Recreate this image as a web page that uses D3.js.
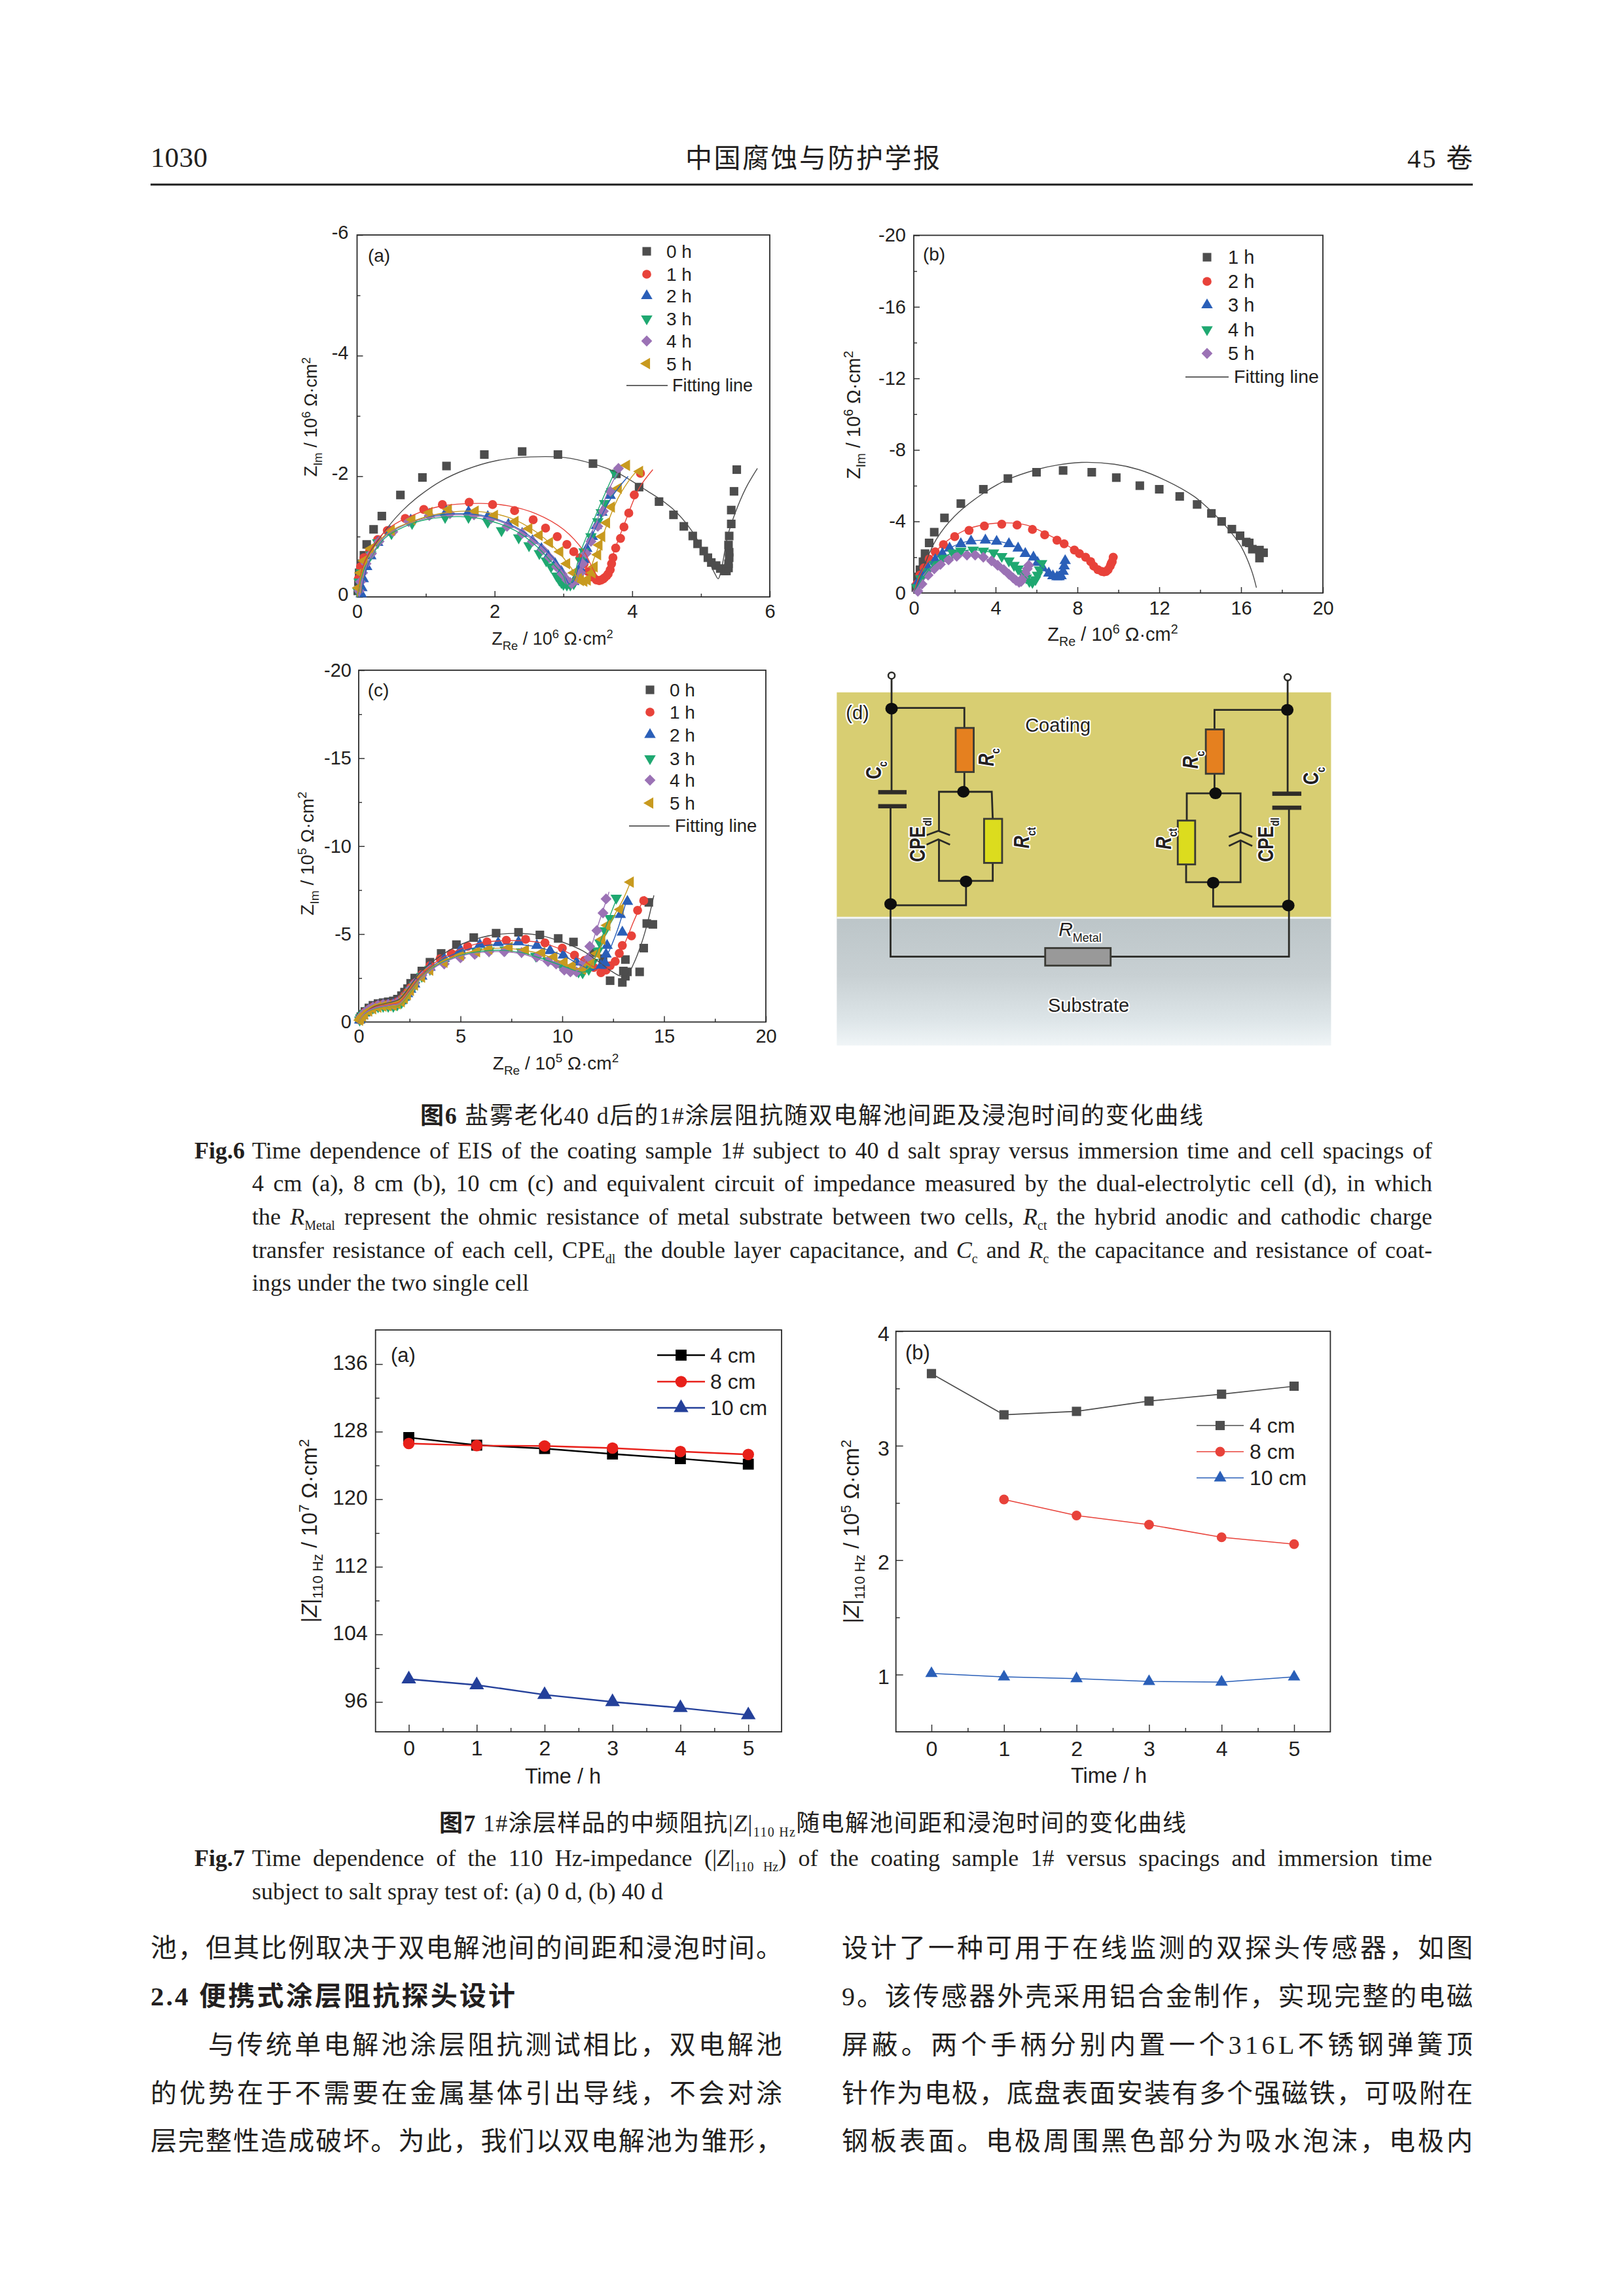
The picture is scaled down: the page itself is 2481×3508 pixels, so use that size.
<!DOCTYPE html>
<html><head><meta charset="utf-8">
<script src="https://cdn.jsdelivr.net/npm/d3@7"></script>
<style>html,body{margin:0;background:#fff}svg{display:block}</style></head>
<body><svg id="page" width="2481" height="3508" xmlns="http://www.w3.org/2000/svg"></svg>
<script>
// ---------- Fig 6(a) data, [ZRe, -ZIm] in 10^6 ohm cm2 ----------
const a0h=[[0.01,0.1],[0.02,0.25],[0.03,0.4],[0.06,0.55],[0.10,0.69],[0.14,0.87],[0.24,1.12],[0.36,1.34],[0.63,1.69],[0.95,1.98],[1.30,2.17],[1.85,2.36],[2.40,2.41],[2.92,2.36],[3.43,2.21],[3.77,2.04],[4.10,1.82],[4.39,1.58],[4.60,1.36],[4.75,1.17],[4.88,1.01],[4.95,0.88],[5.04,0.76],[5.10,0.65],[5.15,0.57],[5.22,0.52],[5.28,0.47],[5.34,0.43],[5.37,0.43],[5.40,0.48],[5.40,0.55],[5.41,0.65],[5.41,0.74],[5.40,0.86],[5.41,1.01],[5.44,1.21],[5.44,1.44],[5.48,1.75],[5.52,2.11]];
const a0hFit=[[0,0],[0.02,0.1],[0.1,0.55],[0.37,1.04],[0.65,1.42],[0.91,1.68],[1.22,1.92],[1.58,2.11],[2.03,2.26],[2.52,2.32],[3.02,2.31],[3.42,2.21],[3.78,2.06],[4.20,1.77],[4.58,1.47],[4.87,1.09],[5.10,0.62],[5.20,0.39],[5.25,0.30],[5.30,0.48],[5.39,1.02],[5.50,1.40],[5.65,1.80],[5.82,2.13]];
const a1h=[[0.02,0.3],[0.05,0.5],[0.1,0.65],[0.18,0.75],[0.3,0.95],[0.44,1.1],[0.70,1.30],[0.97,1.45],[1.24,1.53],[1.63,1.57],[1.97,1.53],[2.29,1.43],[2.56,1.28],[2.74,1.14],[2.91,1.00],[3.05,0.87],[3.15,0.75],[3.24,0.65],[3.30,0.55],[3.36,0.42],[3.42,0.33],[3.48,0.28],[3.52,0.27],[3.55,0.28],[3.58,0.3],[3.60,0.32],[3.63,0.35],[3.65,0.38],[3.68,0.45],[3.70,0.55],[3.72,0.65],[3.76,0.81],[3.83,0.97],[3.88,1.16],[3.95,1.39],[4.03,1.69],[4.12,2.05]];
const a1hFit=[[0,0],[0.1,0.55],[0.3,0.95],[0.5,1.17],[0.8,1.35],[1.2,1.5],[1.8,1.55],[2.2,1.51],[2.6,1.38],[3.0,1.12],[3.3,0.75],[3.45,0.42],[3.55,0.28],[3.62,0.35],[3.72,0.7],[3.9,1.25],[4.1,1.8],[4.3,2.11]];
const a2h=[[0.06,0.05],[0.07,0.15],[0.09,0.3],[0.14,0.5],[0.2,0.68],[0.3,0.9],[0.48,1.08],[0.78,1.27],[1.05,1.37],[1.3,1.42],[1.62,1.41],[1.9,1.33],[2.2,1.2],[2.4,1.05],[2.55,0.93],[2.68,0.8],[2.78,0.68],[2.88,0.55],[2.97,0.42],[3.03,0.3],[3.1,0.22],[3.15,0.25],[3.2,0.35],[3.24,0.48],[3.3,0.62],[3.34,0.8],[3.42,1.0],[3.48,1.18],[3.56,1.4],[3.68,1.68]];
const a2hFit=[[0.06,0],[0.1,0.3],[0.2,0.65],[0.4,1.0],[0.7,1.2],[1.0,1.32],[1.5,1.38],[1.9,1.33],[2.3,1.16],[2.6,0.93],[2.85,0.65],[3.0,0.42],[3.08,0.22],[3.14,0.25],[3.25,0.6],[3.45,1.1],[3.7,1.65],[3.94,2.0]];
const a3h=[[0.01,0.1],[0.03,0.25],[0.06,0.4],[0.12,0.55],[0.2,0.7],[0.3,0.9],[0.5,1.05],[0.8,1.22],[1.28,1.32],[1.62,1.32],[1.9,1.24],[2.1,1.1],[2.35,0.98],[2.5,0.85],[2.65,0.72],[2.75,0.6],[2.82,0.5],[2.9,0.35],[2.94,0.28],[2.97,0.24],[3.0,0.21],[3.05,0.2],[3.1,0.2],[3.15,0.22],[3.2,0.4],[3.25,0.6],[3.3,0.75],[3.4,1.0],[3.5,1.25],[3.55,1.4],[3.6,1.55],[3.7,1.75],[3.75,2.05]];
const a3hFit=[[0,0],[0.1,0.45],[0.2,0.65],[0.4,0.97],[0.7,1.17],[1.0,1.28],[1.5,1.33],[1.9,1.27],[2.3,1.1],[2.6,0.85],[2.85,0.55],[3.0,0.35],[3.05,0.2],[3.12,0.25],[3.25,0.75],[3.45,1.3],[3.6,1.7],[3.75,2.08]];
const a4h=[[0.03,0.1],[0.05,0.25],[0.08,0.4],[0.13,0.55],[0.21,0.72],[0.32,0.92],[0.52,1.08],[0.75,1.25],[1.05,1.35],[1.35,1.38],[1.7,1.36],[1.95,1.3],[2.18,1.17],[2.4,1.05],[2.55,0.92],[2.7,0.78],[2.8,0.65],[2.9,0.5],[2.98,0.38],[3.05,0.28],[3.12,0.22],[3.2,0.28],[3.25,0.4],[3.28,0.55],[3.33,0.72],[3.4,0.92],[3.5,1.17],[3.58,1.42],[3.68,1.75],[3.8,2.13]];
const a4hFit=[[0.03,0],[0.1,0.4],[0.2,0.66],[0.4,1.0],[0.7,1.2],[1.0,1.3],[1.5,1.36],[1.9,1.31],[2.3,1.14],[2.6,0.9],[2.85,0.62],[3.0,0.4],[3.12,0.22],[3.18,0.25],[3.3,0.75],[3.5,1.3],[3.65,1.75],[3.82,2.13]];
const a5h=[[0.02,0.15],[0.05,0.4],[0.1,0.6],[0.2,0.8],[0.5,1.1],[0.8,1.28],[1.05,1.4],[1.33,1.45],[1.72,1.42],[2.0,1.35],[2.3,1.25],[2.5,1.13],[2.65,1.02],[2.8,0.9],[2.95,0.75],[3.05,0.55],[3.15,0.4],[3.22,0.3],[3.25,0.27],[3.3,0.26],[3.35,0.28],[3.42,0.4],[3.45,0.5],[3.5,0.7],[3.52,0.86],[3.56,1.0],[3.63,1.23],[3.7,1.49],[3.8,1.8],[3.92,2.18],[4.11,2.08]];
const a5hFit=[[0,0],[0.1,0.5],[0.3,0.9],[0.5,1.1],[0.8,1.25],[1.2,1.38],[1.7,1.42],[2.2,1.32],[2.6,1.08],[2.9,0.78],[3.1,0.5],[3.25,0.27],[3.33,0.3],[3.45,0.65],[3.6,1.1],[3.8,1.65],[4.0,2.0],[4.08,2.1]];
// ---------- Fig 6(b) data ----------
const b1h=[[0.1,0.3],[0.2,0.9],[0.3,1.3],[0.45,1.75],[0.55,2.2],[0.75,2.8],[1.0,3.4],[1.5,4.2],[2.3,5.0],[3.4,5.8],[4.6,6.4],[6.0,6.75],[7.3,6.85],[8.7,6.75],[9.9,6.45],[11.05,6.0],[12.0,5.8],[13.0,5.4],[13.85,4.95],[14.55,4.45],[15.05,4.0],[15.55,3.57],[15.95,3.2],[16.25,2.85],[16.4,2.8],[16.55,2.45],[16.9,2.4],[17.1,2.25],[16.9,1.95]];
const b1hFit=[[0,0],[0.5,1.5],[1.1,3.0],[2.0,4.3],[3.3,5.5],[4.5,6.3],[6,6.9],[7,7.15],[8.2,7.3],[9.8,7.2],[11,6.9],[12.3,6.3],[13.7,5.4],[14.7,4.4],[15.5,3.4],[16.0,2.6],[16.5,1.3],[16.75,0.3]];
const b2h=[[0.15,0.5],[0.3,1.0],[0.5,1.4],[0.75,1.9],[1.05,2.3],[1.45,2.7],[2.0,3.15],[2.7,3.5],[3.45,3.75],[4.3,3.85],[5.05,3.8],[5.8,3.55],[6.4,3.25],[7.0,2.95],[7.35,2.75],[7.85,2.4],[8.1,2.2],[8.4,2.0],[8.65,1.75],[8.8,1.5],[9.0,1.3],[9.2,1.2],[9.3,1.18],[9.4,1.2],[9.5,1.3],[9.6,1.5],[9.65,1.65],[9.7,1.75],[9.75,2.0]];
const b2hFit=[[0,0],[0.3,1.0],[0.75,1.85],[1.45,2.75],[2.0,3.2],[2.7,3.6],[3.6,3.85],[4.5,3.92],[5.5,3.8],[6.4,3.35],[7.3,2.8],[8.1,2.2],[8.7,1.6],[9.2,1.2],[9.5,1.3],[9.7,1.75],[9.95,2.05]];
const b3h=[[0.2,0.6],[0.4,1.0],[0.7,1.4],[1.05,1.85],[1.4,2.2],[1.75,2.5],[2.3,2.75],[2.8,2.9],[3.5,2.95],[4.05,2.88],[4.65,2.75],[5.1,2.5],[5.45,2.2],[5.85,2.0],[6.05,1.7],[6.3,1.4],[6.6,1.1],[6.8,0.95],[7.0,0.9],[7.1,0.9],[7.2,0.95],[7.3,1.2],[7.35,1.5],[7.4,1.8]];
const b3hFit=[[0,0],[0.5,1.15],[1.0,1.85],[1.75,2.5],[2.5,2.85],[3.5,2.95],[4.5,2.8],[5.3,2.4],[6.0,1.75],[6.5,1.15],[6.9,0.9],[7.2,0.95],[7.35,1.4],[7.5,1.75]];
const b4h=[[0.15,0.3],[0.35,0.8],[0.65,1.2],[1.0,1.6],[1.4,1.95],[1.9,2.25],[2.3,2.35],[2.9,2.4],[3.4,2.35],[3.9,2.25],[4.3,2.05],[4.65,1.8],[4.9,1.55],[5.1,1.35],[5.3,1.1],[5.5,0.85],[5.65,0.65],[5.8,0.6],[5.95,0.75],[6.05,1.0],[6.15,1.3],[6.25,1.65]];
const b4hFit=[[0,0],[0.5,0.95],[1.0,1.6],[1.7,2.15],[2.5,2.38],[3.3,2.38],[4.2,2.1],[5.0,1.45],[5.5,0.85],[5.75,0.6],[5.95,0.75],[6.2,1.4],[6.4,1.75]];
const b5h=[[0.2,0.1],[0.4,0.5],[0.7,1.0],[1.0,1.35],[1.3,1.6],[1.7,1.85],[2.1,2.05],[2.6,2.12],[3.0,2.12],[3.4,2.0],[3.8,1.8],[4.1,1.55],[4.4,1.3],[4.65,1.05],[4.85,0.85],[5.0,0.7],[5.15,0.6],[5.25,0.65],[5.35,0.85],[5.45,1.1],[5.55,1.35],[5.62,1.55]];
const b5hFit=[[0,0],[0.5,0.75],[1.0,1.35],[1.7,1.85],[2.5,2.12],[3.2,2.05],[4.0,1.62],[4.6,1.1],[5.05,0.65],[5.2,0.58],[5.4,0.95],[5.65,1.55]];
// ---------- Fig 6(c) data, 10^5 ohm cm2 ----------
const c0h=[[0.05,0.15],[0.1,0.3],[0.2,0.45],[0.3,0.6],[0.5,0.8],[0.7,0.95],[0.95,1.05],[1.2,1.1],[1.45,1.15],[1.7,1.2],[1.9,1.3],[2.1,1.5],[2.25,1.7],[2.4,1.9],[2.55,2.2],[2.75,2.5],[3.1,2.9],[3.5,3.4],[4.05,3.9],[4.8,4.4],[5.65,4.8],[6.75,5.05],[7.85,5.1],[8.9,4.95],[9.8,4.75],[10.55,4.55],[11.55,3.95],[12.0,3.6],[12.35,2.35],[12.95,2.25],[13.1,2.6],[13.0,2.9],[13.2,2.85],[13.1,3.55],[13.8,2.85],[14.0,4.2],[14.15,5.6],[14.45,5.55],[14.25,6.8]];
const c0hFit=[[0,0],[0.3,0.5],[0.8,0.9],[1.5,1.1],[2.0,1.3],[2.5,2.0],[3.0,2.8],[3.6,3.4],[4.2,3.9],[5,4.4],[6,4.8],[7,5.0],[8,5.03],[9,4.9],[10,4.55],[11,4.05],[11.7,3.5],[12.4,2.9],[12.9,2.6],[13.2,2.7],[13.5,3.3],[13.9,4.5],[14.2,5.7],[14.5,7.2]];
const c1h=[[0.05,0.12],[0.1,0.25],[0.2,0.4],[0.3,0.55],[0.5,0.72],[0.7,0.85],[0.95,0.95],[1.2,1.0],[1.45,1.02],[1.7,1.05],[1.9,1.15],[2.1,1.3],[2.25,1.5],[2.4,1.7],[2.55,1.95],[2.75,2.2],[3.1,2.7],[3.5,3.2],[4.0,3.6],[4.55,3.9],[5.35,4.3],[6.3,4.55],[7.25,4.65],[8.2,4.7],[9.15,4.5],[10,4.2],[10.6,3.8],[11.1,3.5],[11.55,3.1],[11.9,2.8],[12.15,2.95],[12.35,3.2],[12.6,3.45],[12.8,3.9],[12.95,4.35],[13.4,4.9],[13.7,6.35],[14,6.9]];
const c1hFit=[[0,0],[0.3,0.5],[0.8,0.85],[1.5,1.0],[2.0,1.15],[2.5,1.85],[3.0,2.6],[3.6,3.25],[4.2,3.7],[5,4.15],[6,4.5],[7,4.62],[8,4.62],[9,4.5],[10,4.1],[11,3.5],[11.7,3.05],[12.1,2.95],[12.5,3.35],[13.0,4.3],[13.5,5.7],[14.05,7.15]];
const c2h=[[0.05,0.1],[0.1,0.2],[0.2,0.35],[0.3,0.5],[0.5,0.68],[0.7,0.8],[0.95,0.9],[1.2,0.95],[1.45,0.97],[1.7,1.0],[1.9,1.08],[2.1,1.2],[2.25,1.4],[2.4,1.6],[2.55,1.85],[2.75,2.15],[3.1,2.6],[3.5,3.1],[4.2,3.6],[5.0,4.1],[5.95,4.4],[6.85,4.5],[7.85,4.55],[8.75,4.35],[9.4,4.05],[10.05,3.8],[10.7,3.4],[11.3,3.1],[11.9,3.2],[12.1,3.35],[12.15,3.85],[12.2,4.35],[12.95,5.1],[12.85,6.1],[13.2,6.85]];
const c2hFit=[[0,0],[0.3,0.45],[0.8,0.8],[1.5,0.95],[2.0,1.05],[2.5,1.75],[3.0,2.5],[3.6,3.15],[4.2,3.6],[5,4.0],[6,4.3],[7,4.42],[8,4.4],[9,4.2],[10,3.8],[10.8,3.3],[11.4,3.0],[11.8,3.1],[12.2,3.8],[12.7,5.2],[13.2,7.1]];
const c3h=[[0.05,0.12],[0.1,0.25],[0.2,0.38],[0.3,0.5],[0.5,0.67],[0.7,0.8],[0.95,0.87],[1.2,0.9],[1.45,0.9],[1.7,0.9],[1.9,0.98],[2.1,1.1],[2.25,1.3],[2.4,1.5],[2.55,1.8],[2.75,2.1],[3.1,2.6],[3.5,3.0],[4.2,3.4],[5.0,3.75],[5.8,4.0],[6.4,4.05],[7.2,4.1],[8.0,4.0],[8.7,3.75],[9.3,3.5],[9.9,3.3],[10.4,3.05],[10.8,2.85],[11.0,2.8],[11.3,3.0],[11.5,3.4],[11.75,4.05],[11.85,4.5],[12.1,5.2],[12.35,5.9],[12.65,7.05]];
const c3hFit=[[0,0],[0.3,0.45],[0.8,0.75],[1.5,0.85],[2.0,0.95],[2.5,1.65],[3.0,2.4],[3.6,3.05],[4.2,3.45],[5,3.8],[6,4.02],[7,4.08],[8,3.95],[9,3.6],[10,3.2],[10.7,2.9],[11.1,2.85],[11.5,3.4],[12.0,5.0],[12.7,7.1]];
const c4h=[[0.05,0.15],[0.1,0.3],[0.2,0.42],[0.3,0.55],[0.5,0.72],[0.7,0.85],[0.95,0.95],[1.2,1.0],[1.45,1.0],[1.7,1.0],[1.9,1.1],[2.1,1.25],[2.25,1.42],[2.4,1.6],[2.55,1.9],[2.75,2.2],[3.1,2.65],[3.5,3.0],[4.2,3.3],[5.0,3.65],[5.7,3.85],[6.4,4.0],[7.15,4.0],[8.0,3.95],[8.75,3.7],[9.3,3.45],[9.7,3.3],[10.1,2.95],[10.4,2.85],[10.7,2.85],[11.0,3.3],[11.3,3.65],[11.35,4.3],[11.7,5.2],[12.0,6.2],[12.15,7.0]];
const c4hFit=[[0,0],[0.3,0.5],[0.8,0.8],[1.5,0.95],[2.0,1.05],[2.5,1.7],[3.0,2.4],[3.6,3.0],[4.2,3.4],[5,3.75],[6,3.95],[7,4.0],[8,3.88],[9,3.5],[9.8,3.1],[10.4,2.85],[10.8,2.95],[11.2,3.6],[11.7,5.3],[12.3,7.4]];
const c5h=[[0.05,0.1],[0.1,0.2],[0.2,0.33],[0.3,0.45],[0.5,0.62],[0.7,0.75],[0.95,0.85],[1.2,0.9],[1.45,0.92],[1.7,0.95],[1.9,1.03],[2.1,1.15],[2.25,1.35],[2.4,1.55],[2.55,1.8],[2.75,2.1],[3.1,2.55],[3.5,2.95],[4.2,3.4],[5.0,3.8],[5.8,4.0],[6.4,4.15],[7.4,4.25],[8.2,4.1],[9.0,3.95],[9.6,3.7],[10.1,3.4],[10.5,3.2],[11.0,3.0],[11.4,3.3],[11.7,3.9],[11.95,4.7],[12.2,5.5],[12.85,6.4],[13.35,7.95]];
const c5hFit=[[0,0],[0.3,0.42],[0.8,0.72],[1.5,0.85],[2.0,0.98],[2.5,1.7],[3.0,2.45],[3.6,3.1],[4.2,3.5],[5,3.85],[6,4.1],[7,4.2],[8,4.1],[9,3.85],[10,3.4],[10.7,3.05],[11.2,3.0],[11.7,3.8],[12.3,5.5],[13.0,7.0],[13.4,8.1]];
// ---------- Fig 7 data ----------
const hours=[0,1,2,3,4,5];
const f7a4cm=[127.3,126.4,126.0,125.35,124.8,124.15];
const f7a8cm=[126.6,126.35,126.3,126.05,125.65,125.3];
const f7a10cm=[98.7,98.0,96.85,96.0,95.3,94.45];
const f7b4cm=[3.63,3.27,3.30,3.39,3.45,3.52];
const f7b8cm=[null,2.53,2.39,2.31,2.20,2.14];
const f7b10cm=[1.01,0.98,0.965,0.94,0.935,0.98];
const legendHoursA=["0 h","1 h","2 h","3 h","4 h","5 h"];
const legendHoursB=["1 h","2 h","3 h","4 h","5 h"];
const legendCm=["4 cm","8 cm","10 cm"];

const SANS='"Liberation Sans",Arial,sans-serif';
const SERIF='"Liberation Serif","Noto Sans CJK SC",serif';
const INK='#231f20';
const svg=d3.select('#page');
svg.append('rect').attr('width',2481).attr('height',3508).attr('fill','#fff');

const COL={gray:'#4d4d4d',red:'#e8423a',blue:'#2a5fb8',green:'#1fa871',purple:'#9b72b5',gold:'#c89a1f'};
const SHAPE={
  square:{t:d3.symbolSquare,s:1.1,r:0},circle:{t:d3.symbolCircle,s:0.95,r:0},
  up:{t:d3.symbolTriangle,s:0.85,r:0},down:{t:d3.symbolTriangle,s:0.85,r:180},
  diamond:{t:d3.symbolSquare,s:0.9,r:45},left:{t:d3.symbolTriangle,s:0.85,r:-90}};
function mark(g,shape,x,y,size,fill){
  const k=SHAPE[shape];
  g.append('path').attr('d',d3.symbol().type(k.t).size(size*size*k.s)())
    .attr('transform',`translate(${x},${y}) rotate(${k.r})`).attr('fill',fill);
}
// Rich text: runs are strings or {t,sub,sup,i,b}
function rich(g,x,y,runs,o={}){
  const fs=o.size||27,ss=o.subSize||fs*0.68;
  const t=g.append('text').attr('x',x).attr('y',y).attr('font-family',o.font||SANS)
    .attr('font-size',fs).attr('fill',o.fill||INK).attr('text-anchor',o.anchor||'start')
    .style('white-space','pre');
  let tr='';
  if(o.rotate!=null)tr+=`rotate(${o.rotate},${x},${y}) `;
  if(o.sx)tr+=`translate(${x},${y}) scale(${o.sx},1) translate(${-x},${-y})`;
  if(tr)t.attr('transform',tr);
  if(o.halo)t.attr('stroke','#fff').attr('stroke-width',o.halo).attr('paint-order','stroke').attr('stroke-linejoin','round');
  if(o.weight)t.attr('font-weight',o.weight);
  let shift=0;
  runs.forEach(r=>{
    const d=typeof r==='string'?{t:r}:r;
    const target=d.sub?fs*(o.subDrop||0.28):d.sup?-fs*0.38:0;
    const ts=t.append('tspan').text(d.t).attr('dy',target-shift);
    shift=target;
    if(d.sub||d.sup)ts.attr('font-size',ss);
    if(d.i)ts.attr('font-style','italic');
    if(d.b)ts.attr('font-weight','bold');
  });
  return t;
}
function justify(t,w,mode){
  const n=t.node(),nat=n.getComputedTextLength(),s=(n.textContent.match(/ /g)||[]).length;
  if(s>0&&mode!=='letter')t.attr('word-spacing',(w-nat)/s);
  else t.attr('letter-spacing',(w-nat)/Math.max(1,n.textContent.length-1));
  return t;
}
function frameAxes(c){
  const x=d3.scaleLinear(c.xDom,[c.l,c.r]),y=d3.scaleLinear(c.yDom,[c.b,c.t]);
  const g=svg.append('g').attr('font-family',SANS);
  const fmtY=c.fmtY||(d=>d), fs=c.tickSize||28;
  const axes=[
    [d3.axisBottom(x).tickValues(c.xMinor).tickSizeInner(-c.minor).tickSizeOuter(0).tickFormat(''),`translate(0,${c.b})`,0],
    [d3.axisLeft(y).tickValues(c.yMinor).tickSizeInner(-c.minor).tickSizeOuter(0).tickFormat(''),`translate(${c.l},0)`,0],
    [d3.axisBottom(x).tickValues(c.xMajor).tickSizeInner(-c.major).tickSizeOuter(0).tickPadding(c.padX).tickFormat(d=>d),`translate(0,${c.b})`,0],
    [d3.axisLeft(y).tickValues(c.yMajor).tickSizeInner(-c.major).tickSizeOuter(0).tickPadding(c.padY).tickFormat(fmtY),`translate(${c.l},0)`,c.labelDy||0]
  ];
  axes.forEach(([ax,tr,dy])=>{
    const a=g.append('g').attr('transform',tr).call(ax);
    a.select('.domain').remove();
    a.selectAll('line').attr('stroke','#333').attr('stroke-width',1.5);
    a.selectAll('text').attr('font-size',fs).attr('font-family',SANS).attr('fill',INK).attr('transform',`translate(0,${dy})`);
  });
  g.append('rect').attr('x',c.l).attr('y',c.t).attr('width',c.r-c.l).attr('height',c.b-c.t)
    .attr('fill','none').attr('stroke','#2b2b2b').attr('stroke-width',1.8);
  return {x,y,g};
}
function nyquist(c){
  const {x,y,g}=frameAxes(c);
  const line=d3.line().x(d=>x(d[0])).y(d=>y(d[1])).curve(d3.curveCatmullRom.alpha(0.5));
  c.series.forEach(s=>{
    s.data.forEach(d=>mark(g,s.shape,x(d[0]),y(d[1]),12.5,s.color));
  });
  c.series.forEach(s=>{
    g.append('path').datum(s.fit).attr('d',line).attr('fill','none').attr('stroke',s.color).attr('stroke-width',1.4);
  });
  rich(g,c.tag[0],c.tag[1],[c.tagText],{anchor:'middle',size:28});
  c.series.forEach((s,i)=>{
    mark(g,s.shape,c.legX,c.legY[i],12.5,s.color);
    rich(g,c.legTx,c.legY[i]+10,[c.names[i]],{size:c.legSize});
  });
  g.append('line').attr('x1',c.fitL[0]).attr('x2',c.fitL[1]).attr('y1',c.fitY).attr('y2',c.fitY).attr('stroke','#333').attr('stroke-width',1.4);
  rich(g,c.fitT,c.fitY+9,['Fitting line'],{size:c.fitSize});
  rich(g,c.xl[0],c.xl[1],['Z',{t:'Re',sub:1},' / 10',{t:c.exp,sup:1},' Ω·cm',{t:'2',sup:1}],{anchor:'middle',size:c.labelSize});
  rich(g,c.yl[0],c.yl[1],['Z',{t:'Im',sub:1},' / 10',{t:c.exp,sup:1},' Ω·cm',{t:'2',sup:1}],{anchor:'middle',size:c.labelSize,rotate:-90});
}
const neg=d=>d===0?'0':'-'+d;
nyquist({l:545.5,r:1176,t:359,b:912,xDom:[0,6],yDom:[0,6],xMajor:[0,2,4,6],yMajor:[0,2,4,6],xMinor:[1,3,5],yMinor:[1,3,5],
  major:9,minor:5,padX:11,padY:13,fmtY:neg,tickSize:29,labelDy:-4,legSize:28,fitSize:27,labelSize:27,
  series:[{data:a0h,fit:a0hFit,shape:'square',color:COL.gray},{data:a1h,fit:a1hFit,shape:'circle',color:COL.red},{data:a2h,fit:a2hFit,shape:'up',color:COL.blue},{data:a3h,fit:a3hFit,shape:'down',color:COL.green},{data:a4h,fit:a4hFit,shape:'diamond',color:COL.purple},{data:a5h,fit:a5hFit,shape:'left',color:COL.gold}],
  names:legendHoursA,tag:[579,400],tagText:'(a)',legX:988,legTx:1018,legY:[384,419,452,487,521,555.5],fitL:[957,1020],fitY:589,fitT:1027,
  xl:[844,985],yl:[484,637],exp:'6'});
nyquist({l:1396,r:2021,t:359.5,b:906,xDom:[0,20],yDom:[0,20],xMajor:[0,4,8,12,16,20],yMajor:[0,4,8,12,16,20],xMinor:[2,6,10,14,18],yMinor:[2,6,10,14,18],
  major:9,minor:5,padX:12,padY:12,fmtY:neg,tickSize:29,legSize:29,fitSize:28.5,labelSize:29,
  series:[{data:b1h,fit:b1hFit,shape:'square',color:COL.gray},{data:b2h,fit:b2hFit,shape:'circle',color:COL.red},{data:b3h,fit:b3hFit,shape:'up',color:COL.blue},{data:b4h,fit:b4hFit,shape:'down',color:COL.green},{data:b5h,fit:b5hFit,shape:'diamond',color:COL.purple}],
  names:legendHoursB,tag:[1427,398],tagText:'(b)',legX:1844,legTx:1876,legY:[393,430,466,503.5,540],fitL:[1811,1877],fitY:576,fitT:1885,
  xl:[1700,979],yl:[1314,634],exp:'6'});
nyquist({l:548,r:1170,t:1024,b:1561.5,xDom:[0,20],yDom:[0,20],xMajor:[0,5,10,15,20],yMajor:[0,5,10,15,20],xMinor:[2.5,7.5,12.5,17.5],yMinor:[2.5,7.5,12.5,17.5],
  major:9,minor:5,padX:11,padY:11,fmtY:neg,tickSize:29,legSize:28,fitSize:27.5,labelSize:28,
  series:[{data:c0h,fit:c0hFit,shape:'square',color:COL.gray},{data:c1h,fit:c1hFit,shape:'circle',color:COL.red},{data:c2h,fit:c2hFit,shape:'up',color:COL.blue},{data:c3h,fit:c3hFit,shape:'down',color:COL.green},{data:c4h,fit:c4hFit,shape:'diamond',color:COL.purple},{data:c5h,fit:c5hFit,shape:'left',color:COL.gold}],
  names:legendHoursA,tag:[578,1064],tagText:'(c)',legX:993,legTx:1023,legY:[1054,1088,1122.5,1159,1192,1227],fitL:[961,1023],fitY:1262,fitT:1031,
  xl:[849,1634],yl:[479,1304],exp:'5'});

// ---------- Fig 7 ----------
function timePlot(c){
  const {x,y,g}=frameAxes(c);
  const line=d3.line().defined(d=>d[1]!=null).x(d=>x(d[0])).y(d=>y(d[1]));
  c.series.forEach(s=>{
    const pts=hours.map((h,i)=>[h,s.data[i]]);
    g.append('path').datum(pts).attr('d',line).attr('fill','none').attr('stroke',s.color).attr('stroke-width',c.lw);
    pts.filter(d=>d[1]!=null).forEach(d=>mark(g,s.shape,x(d[0]),y(d[1]),c.ms,s.color));
  });
  rich(g,c.tag[0],c.tag[1],[c.tagText],{anchor:'middle',size:31});
  c.series.forEach((s,i)=>{
    g.append('line').attr('x1',c.legL[0]).attr('x2',c.legL[1]).attr('y1',c.legY[i]).attr('y2',c.legY[i]).attr('stroke',s.color).attr('stroke-width',c.lw);
    mark(g,s.shape,(c.legL[0]+c.legL[1])/2,c.legY[i],c.ms,s.color);
    rich(g,c.legT,c.legY[i]+11,[legendCm[i]],{size:32});
  });
  rich(g,c.xl[0],c.xl[1],['Time / h'],{anchor:'middle',size:32.5});
  rich(g,c.yl[0],c.yl[1],['|',{t:'Z',i:1},'|',{t:'110 Hz',sub:1},' / 10',{t:c.exp,sup:1},' Ω·cm',{t:'2',sup:1}],{anchor:'middle',size:32.5,rotate:-90});
}
timePlot({l:573.7,r:1194,t:2032,b:2646,xDom:[-0.49,5.49],yDom:[92.46,140.04],xMajor:hours,yMajor:[96,104,112,120,128,136],xMinor:[0.5,1.5,2.5,3.5,4.5],yMinor:[100,108,116,124,132],
  major:11,minor:6,padX:13,padY:12,tickSize:32,labelDy:-2,lw:2.4,ms:16,
  series:[{data:f7a4cm,shape:'square',color:'#000'},{data:f7a8cm,shape:'circle',color:'#e8201a'},{data:f7a10cm,shape:'up',color:'#24409a'}],
  tag:[616,2081],tagText:'(a)',legL:[1004,1077],legY:[2070.5,2111,2151],legT:1085,xl:[860,2725],yl:[484,2339],exp:'7'});
timePlot({l:1368.7,r:2032.4,t:2034,b:2646,xDom:[-0.49,5.5],yDom:[0.5,4],xMajor:hours,yMajor:[1,2,3,4],xMinor:[0.5,1.5,2.5,3.5,4.5],yMinor:[1.5,2.5,3.5],
  major:11,minor:6,padX:14,padY:10,tickSize:32,labelDy:4,lw:1.6,ms:13.5,
  series:[{data:f7b4cm,shape:'square',color:COL.gray},{data:f7b8cm,shape:'circle',color:COL.red},{data:f7b10cm,shape:'up',color:COL.blue}],
  tag:[1402,2077],tagText:'(b)',legL:[1828,1900],legY:[2178,2218,2258],legT:1909,xl:[1694,2724],yl:[1312,2340],exp:'5'});

// ---------- Fig 6(d) schematic ----------
const px=d3.scaleLinear([0,1568],[1260,2060]),py=d3.scaleLinear([0,1568],[1010,1610]);
const defs=svg.append('defs');
const grad=defs.append('linearGradient').attr('id','subGrad').attr('x1',0).attr('x2',0).attr('y1',0).attr('y2',1);
[[0,'#bcc5c8'],[0.45,'#c8d0d3'],[0.8,'#dde5e8'],[1,'#f0f5f7']].forEach(s=>grad.append('stop').attr('offset',s[0]).attr('stop-color',s[1]));
const dg=svg.append('g');
dg.append('rect').attr('x',px(36)).attr('y',py(125)).attr('width',px(1516)-px(36)).attr('height',py(1025)-py(125)).attr('fill','#d8ce72');
dg.append('rect').attr('x',px(36)).attr('y',py(1025)).attr('width',px(1516)-px(36)).attr('height',py(1535)-py(1025)).attr('fill','url(#subGrad)');
dg.append('rect').attr('x',px(36)).attr('y',py(1025)-1.5).attr('width',px(1516)-px(36)).attr('height',3).attr('fill','#f2f5f5');
const wires=[
 [[200,70],[200,523]],[[197,579],[197,1180],[660,1180]],[[200,187],[418,187],[418,267]],[[418,443],[418,522]],
 [[342,680],[342,522],[500,522],[503,630]],[[503,806],[503,878],[342,878],[342,712]],[[423,880],[423,975],[197,975]],
 [[1386,75],[1386,529]],[[1390,585],[1390,1180],[856,1180]],[[1385,195],[1167,195],[1167,273]],[[1167,450],[1167,528]],
 [[1084,637],[1084,528],[1245,528],[1245,683]],[[1082,812],[1082,883],[1245,883],[1245,716]],[[1163,885],[1163,980],[1388,980]],
 [[305,695],[340,678],[375,695]],[[305,733],[340,712],[375,733]],[[1210,702],[1245,683],[1280,702]],[[1210,738],[1245,716],[1280,738]]
];
const wl=d3.line().x(d=>px(d[0])).y(d=>py(d[1]));
dg.selectAll('.w').data(wires).join('path').attr('d',wl).attr('fill','none').attr('stroke','#2a2a26').attr('stroke-width',2.8);
const plates=[[160,245,523],[160,245,579],[1340,1427,529],[1340,1427,585]];
plates.forEach(p=>dg.append('rect').attr('x',px(p[0])).attr('y',py(p[2])-3).attr('width',px(p[1])-px(p[0])).attr('height',6.5).attr('fill','#2f2c28'));
const boxes=[[392,267,446,443,'#e5801f'],[477,630,531,806,'#dcdc1e'],[1141,273,1195,450,'#e5801f'],[1057,637,1109,812,'#dcdc1e'],[660,1146,856,1216,'#999']];
boxes.forEach(b=>dg.append('rect').attr('x',px(b[0])).attr('y',py(b[1])).attr('width',px(b[2])-px(b[0])).attr('height',py(b[3])-py(b[1])).attr('fill',b[4]).attr('stroke','#3a3a34').attr('stroke-width',2.8));
const nodes=[[200,190],[415,522],[423,880],[197,970],[1385,195],[1170,528],[1163,885],[1388,976]];
nodes.forEach(n=>dg.append('ellipse').attr('cx',px(n[0])).attr('cy',py(n[1])).attr('rx',9.5).attr('ry',9).attr('fill','#0e0e0e'));
[[200,58],[1386,65]].forEach(n=>dg.append('ellipse').attr('cx',px(n[0])).attr('cy',py(n[1])).attr('rx',5).attr('ry',5).attr('fill','#fff').attr('stroke','#2a2a26').attr('stroke-width',2.5));
const H={halo:4.5,size:29};
rich(dg,px(98),py(232),['(d)'],{...H,anchor:'middle'});
rich(dg,px(698),py(282),['Coating'],{...H,anchor:'middle'});
rich(dg,px(790),py(1400),['Substrate'],{...H,anchor:'middle'});
rich(dg,px(700),py(1098),[{t:'R',i:1},{t:'Metal',sub:1}],{halo:4.5,size:30,subSize:18,subDrop:0.3});
const rot=[
 [505,420,[{t:'R',i:1},{t:'c',sub:1}]],[168,472,['C',{t:'c',sub:1}]],[300,802,['CPE',{t:'dl',sub:1}]],[612,748,[{t:'R',i:1},{t:'ct',sub:1}]],
 [1118,430,[{t:'R',i:1},{t:'c',sub:1}]],[1478,494,['C',{t:'c',sub:1}]],[1342,802,['CPE',{t:'dl',sub:1}]],[1036,752,[{t:'R',i:1},{t:'ct',sub:1}]]];
rot.forEach(r=>rich(dg,px(r[0]),py(r[1]),r[2],{halo:4.5,size:34,subSize:19,rotate:-90,sx:0.78,weight:'bold'}));

// ---------- Page text ----------
function cjkLine(x,y,w,s,o={}){
  const t=svg.append('text').attr('x',x).attr('y',y).attr('font-family',o.font||SERIF).attr('font-size',o.size||41).attr('fill',INK).text(s);
  if(o.weight)t.attr('font-weight',o.weight);
  if(w)t.attr('textLength',w).attr('lengthAdjust','spacing');
  return t;
}
cjkLine(230,255,87,'1030',{size:43});
cjkLine(1047,256,389,'中国腐蚀与防护学报',{size:41});
cjkLine(2150,256,100,'45 卷',{size:41});
svg.append('rect').attr('x',230).attr('y',280.5).attr('width',2020).attr('height',3).attr('fill','#1c1c1c');

const enO={font:SERIF,size:36,subSize:20,subDrop:0.22};
justify(rich(svg,642,1717,[{t:'图6',b:1},' 盐雾老化40 d后的1#涂层阻抗随双电解池间距及浸泡时间的变化曲线'],enO),1196,'letter');
const F6X=385,F6W=1803;
const cap6=[
 ['Time dependence of EIS of the coating sample 1# subject to 40 d salt spray versus immersion time and cell spacings of'],
 ['4 cm (a), 8 cm (b), 10 cm (c) and equivalent circuit of impedance measured by the dual-electrolytic cell (d), in which'],
 ['the ',{t:'R',i:1},{t:'Metal',sub:1},' represent the ohmic resistance of metal substrate between two cells, ',{t:'R',i:1},{t:'ct',sub:1},' the hybrid anodic and cathodic charge'],
 ['transfer resistance of each cell, CPE',{t:'dl',sub:1},' the double layer capacitance, and ',{t:'C',i:1},{t:'c',sub:1},' and ',{t:'R',i:1},{t:'c',sub:1},' the capacitance and resistance of coat-'],
 ['ings under the two single cell']];
const cap6Y=[1770,1820,1871,1922,1972];
rich(svg,297,cap6Y[0],['Fig.6'],{...enO,weight:'bold'});
cap6.forEach((r,i)=>{const t=rich(svg,F6X,cap6Y[i],r,enO); if(i<4)justify(t,F6W);});

justify(rich(svg,671,2798,[{t:'图7',b:1},' 1#涂层样品的中频阻抗|',{t:'Z',i:1},'|',{t:'110 Hz',sub:1},'随电解池间距和浸泡时间的变化曲线'],enO),1141,'letter');
rich(svg,297,2851,['Fig.7'],{...enO,weight:'bold'});
justify(rich(svg,F6X,2851,['Time dependence of the 110 Hz-impedance (|',{t:'Z',i:1},'|',{t:'110 Hz',sub:1},') of the coating sample 1# versus spacings and immersion time'],enO),F6W);
rich(svg,F6X,2902,['subject to salt spray test of: (a) 0 d, (b) 40 d'],enO);

const bodyL=[
 [230,965,'池，但其比例取决于双电解池间的间距和浸泡时间。'],
 [230,557,'2.4 便携式涂层阻抗探头设计',1],
 [318,877,'与传统单电解池涂层阻抗测试相比，双电解池'],
 [230,965,'的优势在于不需要在金属基体引出导线，不会对涂'],
 [230,965,'层完整性造成破坏。为此，我们以双电解池为雏形，']];
const bodyR=[
 [1286,964,'设计了一种可用于在线监测的双探头传感器，如图'],
 [1286,964,'9。该传感器外壳采用铝合金制作，实现完整的电磁'],
 [1286,964,'屏蔽。两个手柄分别内置一个316L不锈钢弹簧顶'],
 [1286,964,'针作为电极，底盘表面安装有多个强磁铁，可吸附在'],
 [1286,964,'钢板表面。电极周围黑色部分为吸水泡沫，电极内']];
const bodyY=[2990,3064,3138,3212,3285];
[bodyL,bodyR].forEach(col=>col.forEach((l,i)=>cjkLine(l[0],bodyY[i],l[1],l[2],{size:l[3]?41:40,weight:l[3]?'bold':null})));
</script></body></html>
